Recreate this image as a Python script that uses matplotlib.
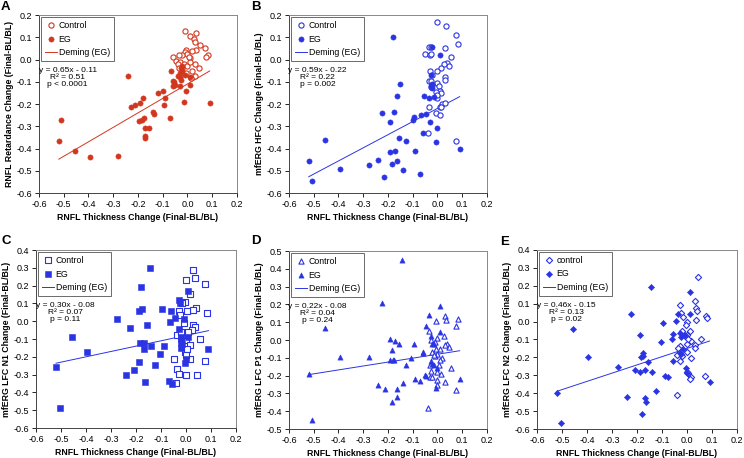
import matplotlib
matplotlib.use("Agg")
import matplotlib.pyplot as plt
import numpy as np
from matplotlib.ticker import MultipleLocator, FormatStrFormatter

plt.rcParams['font.family'] = ['Liberation Sans', 'DejaVu Sans']
plt.rcParams['axes.unicode_minus'] = False

RED = '#d2371e'
BLUE = '#2b34e3'

# ---- Panel A: RNFL retardance ----
a_eg_x = [-0.52, -0.51, -0.455, -0.395, -0.28, -0.24, -0.23, -0.21, -0.19, -0.18, -0.195, -0.185,
          -0.175, -0.17, -0.155, -0.17, -0.17, -0.14, -0.135, -0.12, -0.10, -0.09, -0.095, -0.07,
          -0.065, -0.06, -0.055, -0.06, -0.05, -0.03, -0.025, -0.03, -0.025, -0.02, -0.01, -0.03,
          -0.015, -0.005, 0.01, 0.01, 0.09, -0.04, -0.02]
a_eg_y = [-0.365, -0.27, -0.41, -0.44, -0.435, -0.075, -0.215, -0.205, -0.195, -0.175, -0.275, -0.27,
          -0.265, -0.31, -0.31, -0.345, -0.355, -0.235, -0.245, -0.15, -0.14, -0.175, -0.205, -0.265,
          -0.05, -0.095, -0.10, -0.12, -0.115, -0.06, -0.04, -0.08, -0.09, -0.05, -0.07, -0.12,
          -0.19, -0.14, -0.115, -0.08, -0.195, -0.075, -0.03]
a_ct_x = [-0.01, 0.035, 0.01, 0.025, 0.03, 0.05, 0.07, 0.085, 0.075, 0.035, 0.02, 0.045, 0.03,
          0.03, 0.01, -0.005, -0.01, 0.0, -0.02, -0.035, -0.06, -0.045, -0.03, -0.015, 0.0, 0.01,
          -0.02, -0.005, 0.02, -0.04, 0.005, -0.035, 0.015]
a_ct_y = [0.13, 0.12, 0.105, 0.09, 0.08, 0.065, 0.05, 0.02, 0.01, 0.045, 0.04, -0.04, -0.02,
          -0.075, 0.005, 0.045, 0.035, 0.025, 0.02, 0.02, 0.01, -0.005, -0.01, -0.02, -0.03, -0.01,
          -0.04, -0.06, -0.05, -0.02, 0.01, -0.04, -0.085]

# ---- Panel B: mfERG HFC ----
b_eg_x = [-0.52, -0.505, -0.455, -0.395, -0.275, -0.24, -0.225, -0.215, -0.19, -0.19, -0.185, -0.18,
          -0.175, -0.17, -0.165, -0.165, -0.15, -0.155, -0.14, -0.125, -0.10, -0.095, -0.09, -0.07,
          -0.065, -0.06, -0.055, -0.045, -0.035, -0.03, -0.025, -0.025, -0.02, -0.02, -0.015, 0.0,
          -0.005, 0.01, 0.09, -0.02]
b_eg_y = [-0.455, -0.545, -0.36, -0.49, -0.475, -0.45, -0.24, -0.53, -0.415, -0.28, -0.47, 0.10,
          -0.235, -0.41, -0.165, -0.455, -0.11, -0.355, -0.495, -0.365, -0.27, -0.26, -0.41, -0.515,
          -0.25, -0.33, -0.165, -0.245, -0.175, -0.28, -0.12, -0.07, 0.055, -0.13, -0.17, -0.31,
          -0.37, 0.02, -0.40, -0.11]
b_ct_x = [0.0, 0.035, 0.075, 0.085, -0.035, -0.025, -0.05, -0.03, -0.025, 0.03, 0.055, 0.04, 0.045,
          0.025, 0.015, 0.0, -0.03, -0.02, -0.035, -0.025, 0.0, 0.03, 0.03, 0.005, 0.01, 0.015,
          -0.005, -0.025, 0.0, 0.02, 0.03, 0.01, 0.015, -0.035, -0.005, 0.01, -0.04, 0.075, -0.02, 0.0]
b_ct_y = [0.17, 0.15, 0.11, 0.07, 0.055, 0.055, 0.025, 0.02, 0.025, 0.05, 0.01, -0.015, -0.03,
          -0.02, -0.04, -0.05, -0.05, -0.07, -0.095, -0.095, -0.105, -0.08, -0.09, -0.12, -0.14, -0.15,
          -0.145, -0.125, -0.175, -0.2, -0.195, -0.215, -0.215, -0.215, -0.24, -0.25, -0.33, -0.365,
          -0.115, -0.16]

# ---- Panel C: mfERG LFC N1 ----
c_eg_x = [-0.52, -0.505, -0.455, -0.395, -0.275, -0.24, -0.225, -0.21, -0.19, -0.19, -0.185, -0.18,
          -0.175, -0.17, -0.17, -0.165, -0.155, -0.145, -0.14, -0.125, -0.105, -0.095, -0.09, -0.07,
          -0.065, -0.06, -0.055, -0.045, -0.03, -0.03, -0.02, -0.02, -0.02, -0.015, -0.01, -0.005,
          0.0, 0.01, 0.01, 0.09, -0.025, -0.02]
c_eg_y = [-0.255, -0.49, -0.09, -0.175, 0.015, -0.305, -0.04, -0.275, -0.23, 0.055, -0.125, 0.19,
          0.07, -0.12, -0.155, -0.34, -0.02, 0.30, -0.14, -0.245, -0.185, 0.07, -0.14, -0.335,
          -0.005, 0.055, -0.355, 0.02, 0.12, -0.045, -0.10, -0.12, -0.15, -0.13, 0.01, -0.235,
          -0.21, 0.17, -0.09, -0.155, 0.10, -0.09]
c_ct_x = [0.03, 0.035, 0.0, 0.075, 0.015, 0.085, 0.04, 0.03, 0.005, -0.005, -0.015, -0.03, -0.025,
          -0.01, 0.03, 0.035, 0.025, 0.01, -0.035, -0.015, 0.0, -0.005, 0.015, 0.055, -0.005, 0.005,
          -0.05, 0.015, 0.075, -0.035, -0.03, 0.0, 0.045, -0.04, 0.0, -0.02]
c_ct_y = [0.285, 0.24, 0.23, 0.21, 0.155, 0.045, 0.075, 0.065, 0.06, 0.11, 0.10, 0.055, 0.035,
          -0.01, -0.02, -0.03, -0.05, -0.06, -0.075, -0.08, -0.11, -0.14, -0.135, -0.10, -0.175, -0.155,
          -0.215, -0.215, -0.225, -0.27, -0.295, -0.305, -0.30, -0.345, -0.19, -0.06]

# ---- Panel D: mfERG LFC P1 ----
d_eg_x = [-0.52, -0.505, -0.455, -0.395, -0.275, -0.24, -0.225, -0.21, -0.19, -0.19, -0.185, -0.18,
          -0.175, -0.185, -0.17, -0.165, -0.165, -0.155, -0.145, -0.14, -0.125, -0.105, -0.095, -0.09,
          -0.07, -0.06, -0.06, -0.05, -0.045, -0.045, -0.035, -0.025, -0.02, -0.025, -0.02, -0.015,
          -0.005, 0.0, 0.01, 0.01, 0.09, -0.015]
d_eg_y = [-0.19, -0.45, 0.07, -0.095, -0.095, -0.25, 0.21, -0.275, 0.005, -0.115, -0.055, -0.115,
          -0.11, -0.35, -0.005, -0.275, -0.32, -0.025, 0.45, -0.24, -0.14, -0.10, -0.02, -0.22,
          -0.23, -0.07, -0.075, -0.195, -0.20, 0.08, 0.14, 0.02, -0.02, -0.12, -0.135, -0.14,
          -0.27, -0.16, 0.19, 0.045, -0.22, -0.025]
d_ct_x = [0.03, 0.035, 0.085, 0.075, -0.005, -0.035, 0.025, -0.025, 0.0, -0.01, 0.04, 0.045, 0.03,
          0.01, -0.005, -0.02, 0.0, -0.01, 0.02, 0.01, 0.055, -0.03, -0.025, 0.0, 0.015, -0.03,
          -0.02, 0.0, 0.03, 0.075, 0.0, -0.04, -0.015, 0.005]
d_ct_y = [0.135, 0.11, 0.12, 0.08, 0.105, 0.05, 0.025, 0.0, 0.01, -0.01, -0.02, -0.04, -0.03,
          -0.05, -0.05, -0.07, -0.08, -0.09, -0.10, -0.115, -0.155, -0.14, -0.175, -0.18, -0.19, -0.205,
          -0.21, -0.225, -0.235, -0.28, -0.255, -0.38, -0.085, -0.14]

# ---- Panel E: mfERG LFC N2 ----
e_eg_x = [-0.52, -0.505, -0.455, -0.395, -0.275, -0.24, -0.225, -0.21, -0.19, -0.19, -0.185, -0.18,
          -0.175, -0.175, -0.17, -0.17, -0.165, -0.155, -0.145, -0.14, -0.125, -0.105, -0.095, -0.09,
          -0.075, -0.06, -0.055, -0.055, -0.045, -0.035, -0.03, -0.025, -0.025, -0.015, -0.01, -0.005,
          0.0, 0.01, 0.01, 0.09, -0.03]
e_eg_y = [-0.40, -0.565, -0.04, -0.20, -0.255, -0.42, 0.04, -0.27, -0.075, -0.28, -0.20, -0.515,
          -0.19, -0.175, -0.27, -0.425, -0.45, -0.225, 0.195, -0.28, -0.385, -0.115, -0.01, -0.305,
          -0.31, -0.10, -0.07, -0.22, 0.005, 0.045, -0.065, -0.085, -0.18, -0.155, -0.075, -0.26,
          -0.29, 0.165, 0.04, -0.335, -0.175]
e_ct_x = [0.045, 0.03, 0.035, 0.04, 0.075, 0.08, 0.035, -0.03, -0.025, -0.015, 0.0, -0.005, -0.02,
          0.01, 0.0, -0.01, 0.055, 0.015, 0.0, -0.03, -0.035, 0.03, 0.03, 0.0, -0.04, -0.03, 0.015,
          0.0, 0.005, 0.015, 0.01, 0.07, -0.04, -0.02, 0.005]
e_ct_y = [0.25, 0.115, 0.075, 0.06, 0.03, 0.02, 0.01, 0.09, 0.05, 0.025, 0.0, -0.02, -0.055,
          -0.055, -0.075, -0.08, -0.095, -0.11, -0.125, -0.135, -0.15, -0.13, -0.145, -0.17, -0.185,
          -0.22, -0.205, -0.28, -0.285, -0.31, -0.32, -0.305, -0.41, -0.19, -0.095]

# Deming fits (slope, intercept) and stats text
fits = {
    'A': (0.65, -0.11, 'y = 0.65x - 0.11\nR² = 0.51\np < 0.0001'),
    'B': (0.59, -0.22, 'y = 0.59x - 0.22\nR² = 0.22\np = 0.002'),
    'C': (0.30, -0.08, 'y = 0.30x - 0.08\nR² = 0.07\np = 0.11'),
    'D': (0.22, -0.08, 'y = 0.22x - 0.08\nR² = 0.04\np = 0.24'),
    'E': (0.46, -0.15, 'y = 0.46x - 0.15\nR² = 0.13\np = 0.02'),
}
fit_range = (-0.52, 0.09)

panels = [
    # letter, rect, data, ylabel, ylim, marker, color, control label, letter pos (px)
    ('A', [0.0524, 0.5786, 0.266, 0.3886], (a_eg_x, a_eg_y, a_ct_x, a_ct_y),
     'RNFL Retardance Change (Final-BL/BL)', (-0.6, 0.2), 'o', RED, 'Control', (1, 1)),
    ('B', [0.3884, 0.5786, 0.266, 0.3886], (b_eg_x, b_eg_y, b_ct_x, b_ct_y),
     'mfERG HFC Change (Final-BL/BL)', (-0.6, 0.2), 'o', BLUE, 'Control', (251, 1)),
    ('C', [0.0484, 0.0655, 0.2688, 0.3886], (c_eg_x, c_eg_y, c_ct_x, c_ct_y),
     'mfERG LFC N1 Change (Final-BL/BL)', (-0.6, 0.4), 's', BLUE, 'Control', (1, 235)),
    ('D', [0.3884, 0.0633, 0.266, 0.3886], (d_eg_x, d_eg_y, d_ct_x, d_ct_y),
     'mfERG LFC P1 Change (Final-BL/BL)', (-0.5, 0.5), '^', BLUE, 'Control', (251, 235)),
    ('E', [0.7218, 0.0633, 0.2688, 0.391], (e_eg_x, e_eg_y, e_ct_x, e_ct_y),
     'mfERG LFC N2 Change (Final-BL/BL)', (-0.6, 0.4), 'D', BLUE, 'control', (500, 236)),
]

W, H = 744, 458
fig = plt.figure(figsize=(W / 100, H / 100), dpi=100)

for letter, rect, data, ylabel, ylim, marker, color, ctl_label, lpos in panels:
    eg_x, eg_y, ct_x, ct_y = data
    ax = fig.add_axes(rect)
    size = 10 if marker == 'D' else 14
    ax.scatter(ct_x, ct_y, s=size, marker=marker, facecolors='white', edgecolors=color,
               linewidths=0.8, label=ctl_label, zorder=3)
    ax.scatter(eg_x, eg_y, s=size, marker=marker, color=color, linewidths=0.4,
               label='EG', zorder=4)
    slope, icpt, txt = fits[letter]
    xs = np.array(fit_range)
    ax.plot(xs, slope * xs + icpt, color=color, lw=0.7, label='Deming (EG)', zorder=2)

    ax.set_xlim(-0.6, 0.2)
    ax.set_ylim(*ylim)
    ax.xaxis.set_major_locator(MultipleLocator(0.1))
    ax.yaxis.set_major_locator(MultipleLocator(0.1))
    ax.xaxis.set_major_formatter(FormatStrFormatter('%.1f'))
    ax.yaxis.set_major_formatter(FormatStrFormatter('%.1f'))
    ax.tick_params(labelsize=6.5, length=3, width=0.6, direction='out', pad=2)
    for side, sp in ax.spines.items():
        sp.set_linewidth(0.7)
        sp.set_color('#444444' if side in ('left', 'bottom') else '#888888')
    ax.set_xlabel('RNFL Thickness Change (Final-BL/BL)', fontsize=6.3, fontweight='bold', labelpad=3)
    ax.set_ylabel(ylabel, fontsize=6.3, fontweight='bold', labelpad=2)

    leg = ax.legend(loc='upper left', fontsize=6.3, frameon=True, fancybox=False,
                    borderpad=0.45, labelspacing=0.55, handlelength=1.4, handletextpad=0.2,
                    borderaxespad=0.2, scatterpoints=1)
    leg.get_frame().set_edgecolor('#444444')
    leg.get_frame().set_linewidth(0.7)

    ax.text(0.145, 0.71, txt, transform=ax.transAxes, ha='center', va='top',
            multialignment='center', fontsize=6.0, linespacing=1.0)

    fig.text(lpos[0] / W, 1 - lpos[1] / H, letter, fontsize=9.5,
             fontweight='bold', ha='left', va='top')

fig.savefig('out.png', dpi=100)
